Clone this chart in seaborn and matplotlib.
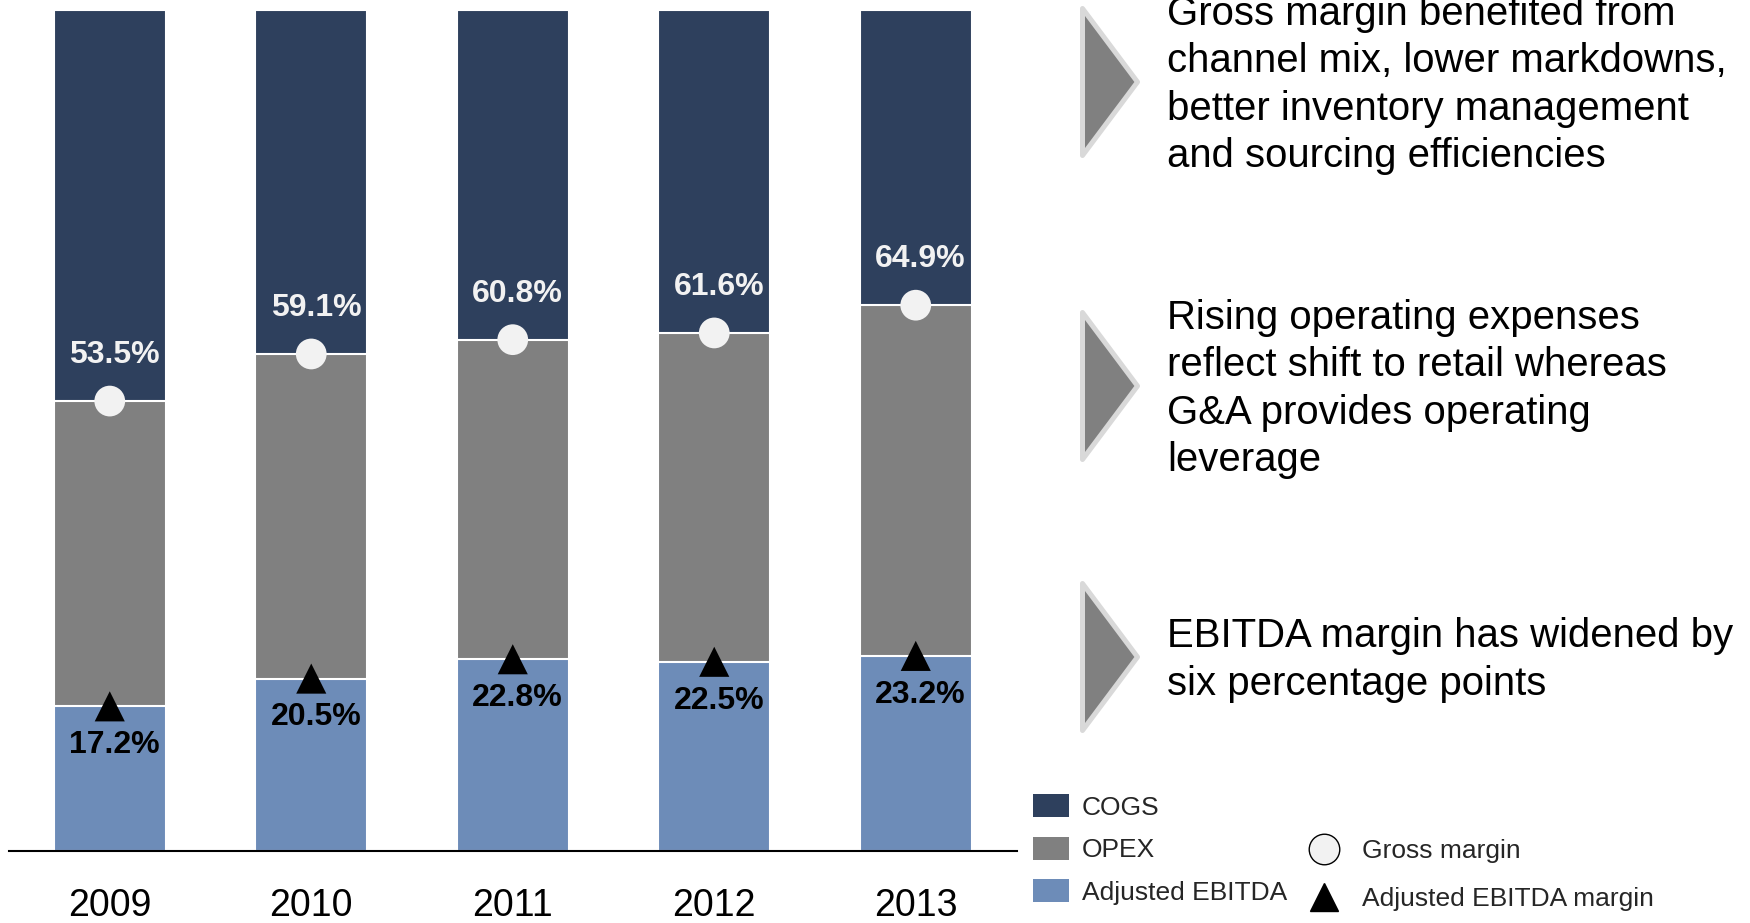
import numpy as np
import pandas as pd
import matplotlib
matplotlib.use("Agg")
import matplotlib.pyplot as plt
import seaborn as sns
from matplotlib.patches import Patch, Polygon
from matplotlib.lines import Line2D

# ---------------- data ----------------
years = ["2009", "2010", "2011", "2012", "2013"]
gross_margin = [53.5, 59.1, 60.8, 61.6, 64.9]
ebitda_margin = [17.2, 20.5, 22.8, 22.5, 23.2]
total = [100, 100, 100, 100, 100]

legend_bars = ["COGS", "OPEX", "Adjusted EBITDA"]
legend_markers = ["Gross margin", "Adjusted EBITDA margin"]

bullets = [
    ["Gross margin benefited from", "channel mix, lower markdowns,",
     "better inventory management", "and sourcing efficiencies"],
    ["Rising operating expenses", "reflect shift to retail whereas",
     "G&A provides operating", "leverage"],
    ["EBITDA margin has widened by", "six percentage points"],
]

# ---------------- style ----------------
C_COGS = "#2E405D"
C_OPEX = "#808080"
C_EBITDA = "#6D8CB8"
C_GM = "#F2F2F2"

sns.set_theme(style="white")
plt.rcParams["font.family"] = ["Liberation Sans", "DejaVu Sans"]

W, H = 1750, 923
fig = plt.figure(figsize=(W / 100, H / 100), dpi=100)
fig.patch.set_facecolor("white")

ax_left, ax_right, ax_top, ax_bottom = 9, 1016.5, 10, 851
ax = fig.add_axes([ax_left / W, (H - ax_bottom) / H,
                   (ax_right - ax_left) / W, (ax_bottom - ax_top) / H])

df = pd.DataFrame({"year": years, "total": total,
                   "gross": gross_margin, "ebitda": ebitda_margin})

# stacked bars drawn as overlapping cumulative bars
for col, c in [("total", C_COGS), ("gross", C_OPEX), ("ebitda", C_EBITDA)]:
    sns.barplot(data=df, x="year", y=col, color=c, saturation=1,
                width=0.556, edgecolor="white", linewidth=1.5,
                errorbar=None, ax=ax, zorder=2)

sns.scatterplot(data=df, x="year", y="gross", marker="o", s=490,
                color=C_GM, edgecolor="none", linewidth=0, zorder=5,
                legend=False, ax=ax)
sns.scatterplot(data=df, x="year", y="ebitda", marker="^", s=470,
                color="black", edgecolor="none", linewidth=0, zorder=5,
                legend=False, ax=ax)

for i, v in enumerate(gross_margin):
    ax.annotate(f"{v:.1f}%", xy=(i, v), xytext=(3.5, 33),
                textcoords="offset points", ha="center", va="center",
                color=C_GM, fontsize=23, fontweight="bold", zorder=6)
for i, v in enumerate(ebitda_margin):
    ax.annotate(f"{v:.1f}%", xy=(i, v), xytext=(3.5, -28),
                textcoords="offset points", ha="center", va="center",
                color="black", fontsize=23, fontweight="bold", zorder=6)

ax.set_xlim(-0.5, 4.5)
ax.set_ylim(0, 100)
ax.set_yticks([])
ax.set_xlabel("")
ax.set_ylabel("")
for s in ["top", "left", "right"]:
    ax.spines[s].set_visible(False)
ax.spines["bottom"].set_color("black")
ax.spines["bottom"].set_linewidth(1.5)
ax.spines["bottom"].set_zorder(7)
ax.tick_params(axis="x", length=0, pad=26.5, labelsize=27, colors="black")

# ---------------- legends ----------------
bar_handles = [Patch(facecolor=c, edgecolor="none")
               for c in (C_COGS, C_OPEX, C_EBITDA)]
fig.legend(handles=bar_handles, labels=legend_bars, loc="upper left",
           bbox_to_anchor=(1033 / W, 1 - 794 / H), frameon=False,
           fontsize=19, handlelength=1.36, handleheight=0.98,
           handletextpad=0.49, labelspacing=0.64, borderpad=0,
           borderaxespad=0)

mk_handles = [
    Line2D([], [], marker="o", linestyle="none", markersize=22,
           markerfacecolor=C_GM, markeredgecolor="black", markeredgewidth=1),
    Line2D([], [], marker="^", linestyle="none", markersize=20,
           markerfacecolor="black", markeredgecolor="black"),
]
fig.legend(handles=mk_handles, labels=legend_markers, loc="upper left",
           bbox_to_anchor=(1308 / W, 1 - 839 / H), frameon=False,
           fontsize=19, handlelength=1.2, handletextpad=0.83,
           labelspacing=0.9, borderpad=0, borderaxespad=0, numpoints=1)

# ---------------- commentary with arrow shapes ----------------
tips = [82, 386, 657]
for tip, lines in zip(tips, bullets):
    half = 73.5
    verts = [(1082.5, tip - half), (1082.5, tip + half), (1137.5, tip)]
    verts = [(x / W, 1 - y / H) for x, y in verts]
    fig.patches.append(Polygon(verts, closed=True, transform=fig.transFigure,
                               facecolor=C_OPEX, edgecolor="#D9D9D9",
                               linewidth=3.6, joinstyle="round"))
    n = len(lines)
    for j, line in enumerate(lines):
        yb = tip + 14 + (j - (n - 1) / 2) * 47.5
        fig.text(1167 / W, 1 - yb / H, line, fontsize=28.9,
                 ha="left", va="baseline", color="black")

fig.savefig("out.png", dpi=100)
